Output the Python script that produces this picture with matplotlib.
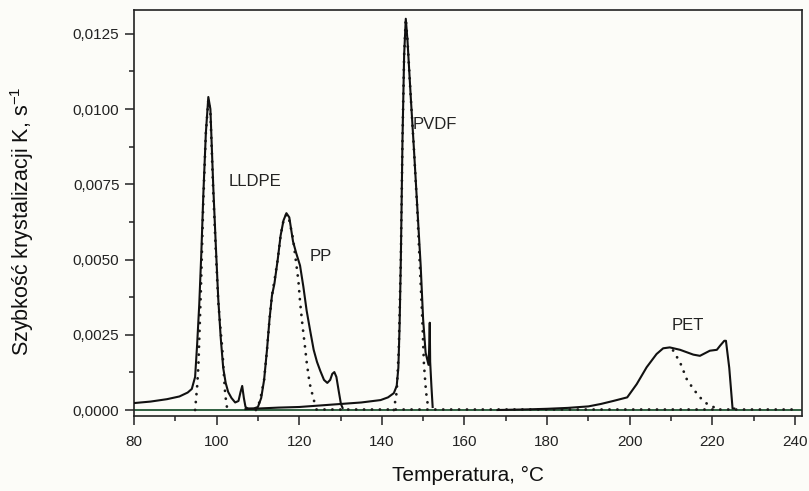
import matplotlib

matplotlib.use('Agg')

import matplotlib.pyplot as plt
from matplotlib.ticker import MultipleLocator, FuncFormatter

plt.rcParams['font.family'] = ['Liberation Sans', 'DejaVu Sans']

# Dane (temperatura w °C, szybkość w K/s)
lldpe_t = [80, 84, 88, 91, 93, 94, 94.8, 95.3, 95.8, 96.3, 96.8, 97.4, 98, 98.5,
           99.2, 99.8, 100.4, 101, 101.6, 102.2, 102.8, 103.6, 104.5, 105.3,
           105.8, 106.2, 106.6, 107, 107.5]
lldpe_v = [0.00023, 0.00028, 0.00036, 0.00045, 0.00058, 0.0007, 0.0011, 0.0022,
           0.0035, 0.0052, 0.0072, 0.0092, 0.0104, 0.0100, 0.0074, 0.0055, 0.0037,
           0.0024, 0.0014, 0.0009, 0.0006, 0.0004, 0.00025, 0.0003, 0.0006, 0.0008,
           0.0004, 0.0001, 0.00005]

pp_t = [107.5, 109, 110, 110.8, 111.5, 112.2, 112.8, 113.4, 114, 114.8, 115.5,
        116.2, 116.9, 117.6, 118.5, 119.3, 120.2, 121, 121.8, 122.7, 123.5, 124.3,
        125.1, 126, 126.8, 127.5, 128, 128.5, 129, 129.6, 130.1, 130.5]
pp_v = [0.00005, 0.00005, 0.0001, 0.0004, 0.0010, 0.0020, 0.0030, 0.0038, 0.0042,
        0.0050, 0.0058, 0.0063, 0.00654, 0.0064, 0.0056, 0.0052, 0.0048, 0.0041,
        0.0033, 0.0026, 0.0020, 0.0016, 0.0013, 0.0010, 0.0009, 0.0010, 0.0012,
        0.00126, 0.0011, 0.0006, 0.0002, 0.00007]

pvdf_t = [107, 115, 120, 125, 130, 135, 139.7, 141.5, 142.9, 143.6, 144, 144.3,
          144.6, 145, 145.4, 145.8, 146.2, 147, 147.8, 148.6, 149.4, 150, 150.6,
          151.3, 151.5, 151.6, 151.7, 152, 152.3]
pvdf_v = [0.00003, 0.00008, 0.0001, 0.00015, 0.0002, 0.00025, 0.00033, 0.00042,
          0.00056, 0.0008, 0.0014, 0.0028, 0.0050, 0.0090, 0.0118, 0.0130, 0.0123,
          0.0104, 0.0086, 0.0067, 0.0048, 0.0030, 0.0019, 0.0015, 0.0022, 0.0029,
          0.0016, 0.0008, 0.0001]

pet_t = [168, 175, 180, 185, 190, 193, 196, 199.4, 201.7, 204.1, 206.5, 208.1,
         209.7, 212.2, 215.4, 217, 219.4, 221.1, 221.9, 222.9, 223.3, 224.1, 224.9,
         225.3]
pet_v = [0.0, 0.00002, 0.00004, 0.00007, 0.00012, 0.0002, 0.0003, 0.00042,
         0.00086, 0.00142, 0.00186, 0.00205, 0.00208, 0.0020, 0.00184, 0.0018,
         0.00197, 0.0020, 0.00214, 0.0023, 0.0023, 0.0014, 0.00005, 0.00005]

# Krzywe dopasowane (linia kropkowana)
lldpe_fit_t = [94.8, 95.3, 95.6, 96.2, 96.8, 97.4, 98, 98.5, 99.2, 99.8, 100.4,
               101, 101.4, 101.8, 102.1, 102.5]
lldpe_fit_v = [0.0, 0.0008, 0.0015, 0.0040, 0.0070, 0.0092, 0.0103, 0.0099,
               0.0072, 0.0053, 0.0036, 0.0026, 0.0020, 0.0011, 0.0005, 0.0001]

pp_fit_t = [109.5, 110.5, 111.5, 112.2, 112.8, 113.4, 114, 114.8, 115.5, 116.2,
            116.9, 117.6, 118.5, 119.8, 120.2, 120.8, 121.4, 121.8, 122.5, 123.4, 124]
pp_fit_v = [0.0, 0.0003, 0.0010, 0.0020, 0.0030, 0.0038, 0.0043, 0.0050, 0.0058,
            0.0063, 0.0065, 0.0063, 0.0057, 0.0043, 0.0036, 0.0028, 0.0021, 0.0016,
            0.0009, 0.0004, 0.0001]

pvdf_fit_t = [142.9, 143.6, 144.1, 144.6, 145, 145.4, 145.8, 146.2, 147, 147.8,
              148.6, 149.3, 149.8, 150.2, 150.7, 151.2]
pvdf_fit_v = [0.0, 0.0006, 0.0020, 0.0050, 0.0090, 0.0118, 0.0130, 0.0123, 0.0104,
              0.0086, 0.0066, 0.0045, 0.0030, 0.0015, 0.0006, 0.0001]

pet_fit_t = [210.5, 212.2, 213.8, 215.4, 217, 219, 221.5]
pet_fit_v = [0.00198, 0.00158, 0.00103, 0.0007, 0.00042, 0.00017, 0.00003]

base_fit_t = [124, 240]
base_fit_v = [0.00003, 0.00003]

labels = ['LLDPE', 'PP', 'PVDF', 'PET']
label_t = [102.8, 122.6, 147.5, 210.2]
label_v = [0.0076, 0.0051, 0.0095, 0.0028]

x_ticks = [80, 100, 120, 140, 160, 180, 200, 220, 240]

tlo = '#fcfcf8'
fig = plt.figure(figsize=(8.09, 4.91), dpi=100, facecolor=tlo)
ax = fig.add_axes([0.1656, 0.1527, 0.8257, 0.8269], facecolor=tlo)

# Linia zera
ax.axhline(0, color='#2f5f3f', linewidth=1.4, zorder=1)

# kropki: prawie zerowa kreska + okragle zakonczenie
kropki = (0, (0.05, 2.8))
for t, v in [(lldpe_fit_t, lldpe_fit_v), (pp_fit_t, pp_fit_v),
             (pvdf_fit_t, pvdf_fit_v), (pet_fit_t, pet_fit_v),
             (base_fit_t, base_fit_v)]:
    ax.plot(t, v, color='#1a1a1a', linewidth=2.0, linestyle=kropki,
            dash_capstyle='round', zorder=2)

for t, v in [(lldpe_t, lldpe_v), (pp_t, pp_v), (pvdf_t, pvdf_v), (pet_t, pet_v)]:
    ax.plot(t, v, color='#111111', linewidth=1.5, zorder=3)

for txt, t, v in zip(labels, label_t, label_v):
    ax.text(t, v, txt, fontsize=12, color='#222222', ha='left', va='center')

ax.set_xlim(80, 241.7)
ax.set_ylim(-0.0002, 0.01329)
ax.set_xticks(x_ticks)
ax.xaxis.set_minor_locator(MultipleLocator(10))
ax.yaxis.set_major_locator(MultipleLocator(0.0025))
ax.yaxis.set_minor_locator(MultipleLocator(0.00125))
ax.yaxis.set_major_formatter(FuncFormatter(lambda y, _: f"{y:.4f}".replace('.', ',')))

ax.tick_params(axis='both', which='major', direction='out', length=6.5, width=1.1,
               labelsize=11, colors='#222222')
ax.tick_params(axis='x', which='major', pad=7)
ax.tick_params(axis='y', which='major', pad=4)
ax.tick_params(axis='both', which='minor', direction='out', length=3.5, width=1.1,
               colors='#222222')

for s in ax.spines.values():
    s.set_linewidth(1.2)
    s.set_color('#222222')

ax.set_xlabel('Temperatura, °C', fontsize=15, color='#111111')
ax.xaxis.set_label_coords(0.5, -0.123)
ax.set_ylabel(r'Szybkość krystalizacji K, s$^{\mathregular{-1}}$', fontsize=15.5,
              color='#111111')
ax.yaxis.set_label_coords(-0.147, 0.48)

plt.savefig('out.png', dpi=100, facecolor=tlo)
plt.close(fig)
